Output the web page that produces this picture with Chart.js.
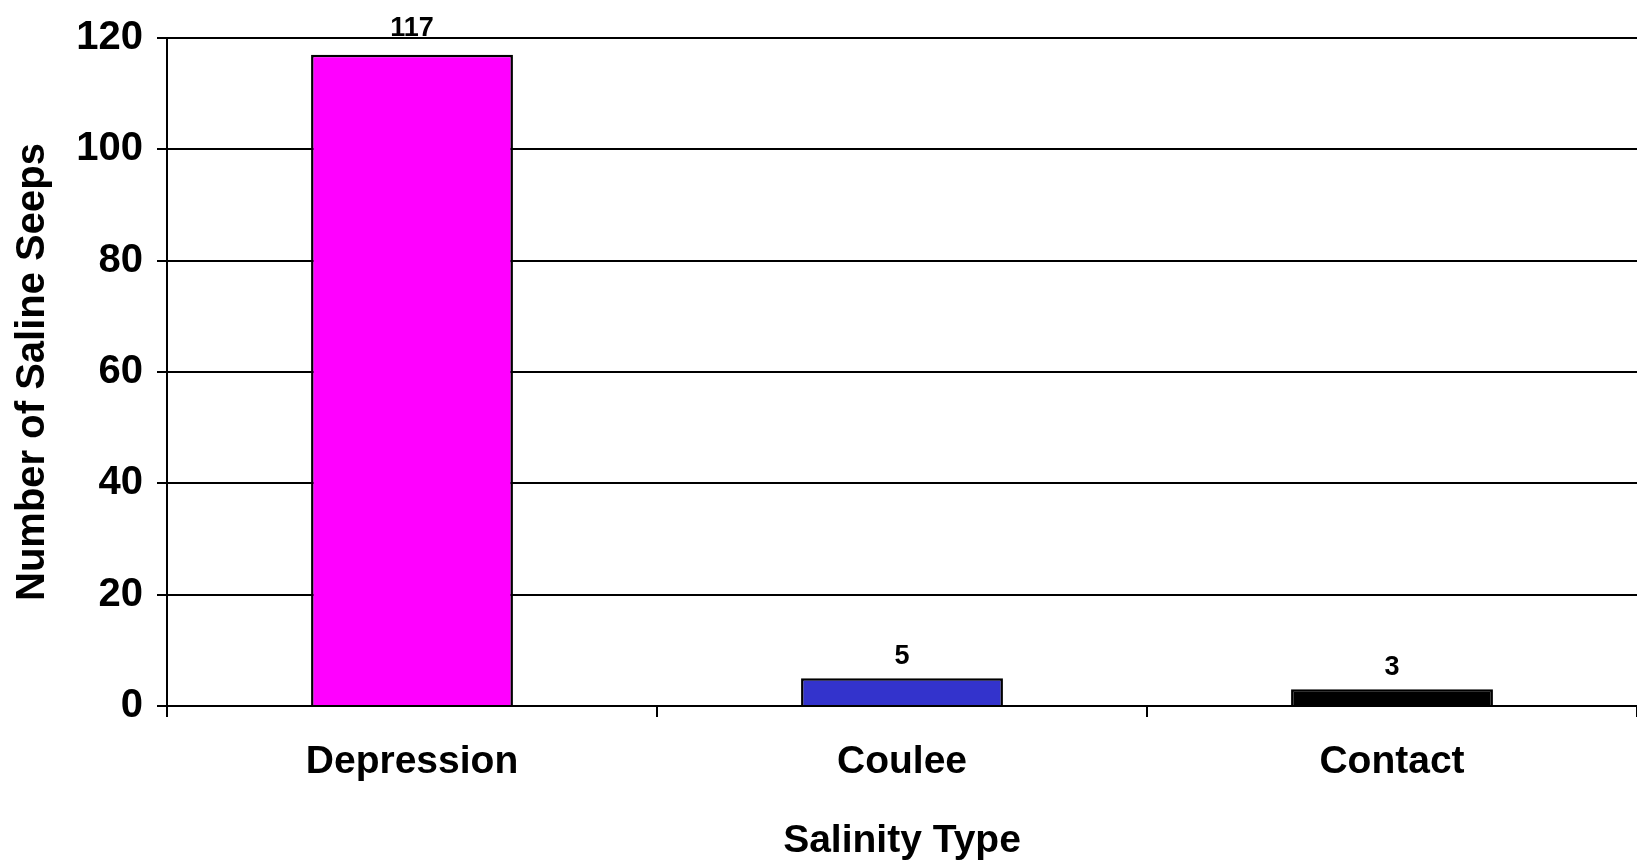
<!DOCTYPE html>
<html>
<head>
<meta charset="utf-8">
<script src="https://cdn.jsdelivr.net/npm/chart.js@4"></script>
<style>
  html, body { margin: 0; padding: 0; background: #fff; }
  #wrap { width: 1637px; height: 866px; }
</style>
</head>
<body>
<div id="wrap"><canvas id="c" width="1637" height="866"></canvas></div>
<script>
const categories = ["Depression", "Coulee", "Contact"];
const seepCounts = [117, 5, 3];
const barColors = ["#FF00FF", "#3333CC", "#000000"];
const yTicks = [0, 20, 40, 60, 80, 100, 120];

const FONT = "'Liberation Sans', Arial, sans-serif";

const valueLabels = {
  id: 'valueLabels',
  afterDatasetsDraw(chart) {
    const ctx = chart.ctx;
    const meta = chart.getDatasetMeta(0);
    ctx.save();
    ctx.font = "bold 27px " + FONT;
    ctx.fillStyle = "#000";
    ctx.textAlign = "center";
    ctx.textBaseline = "bottom";
    meta.data.forEach((bar, i) => {
      const off = i === 0 ? 13 : 8;
      ctx.fillText(String(seepCounts[i]), bar.x, bar.y - off);
    });
    ctx.restore();
  }
};

new Chart(document.getElementById('c'), {
  type: 'bar',
  data: {
    labels: categories,
    datasets: [{
      data: seepCounts,
      backgroundColor: barColors,
      borderColor: "#000",
      borderWidth: 2.5,
      borderSkipped: 'bottom',
      categoryPercentage: 1.0,
      barPercentage: 0.412
    }]
  },
  options: {
    responsive: false,
    animation: false,
    devicePixelRatio: 1,
    layout: { padding: { top: 33, right: 0, left: 0, bottom: 0 } },
    plugins: { legend: { display: false }, tooltip: { enabled: false } },
    scales: {
      x: {
        offset: true,
        grid: { offset: true, drawOnChartArea: false, drawTicks: true, tickLength: 11, color: "#000", lineWidth: 2 },
        border: { display: true, color: "#000", width: 2 },
        ticks: { color: "#000", font: { family: FONT, size: 39, weight: 'bold' }, padding: 22 },
        title: { display: true, text: "Salinity Type", color: "#000", font: { family: FONT, size: 39, weight: 'bold', lineHeight: 1.0 }, padding: { top: 0, bottom: 5 } },
        afterFit(scale) { scale.height = 160; }
      },
      y: {
        min: 0, max: 120,
        afterBuildTicks(scale) { scale.ticks = yTicks.map(v => ({ value: v })); },
        grid: { color: "#000", lineWidth: 2, tickLength: 10 },
        border: { display: true, color: "#000", width: 2 },
        ticks: { color: "#000", font: { family: FONT, size: 40, weight: 'bold' }, padding: 14 },
        title: { display: true, text: "Number of Saline Seeps", color: "#000", font: { family: FONT, size: 40, weight: 'bold', lineHeight: 1.0 }, padding: { top: 13, bottom: 0 } },
        afterFit(scale) { scale.width = 167; }
      }
    }
  },
  plugins: [valueLabels]
});
</script>
</body>
</html>
